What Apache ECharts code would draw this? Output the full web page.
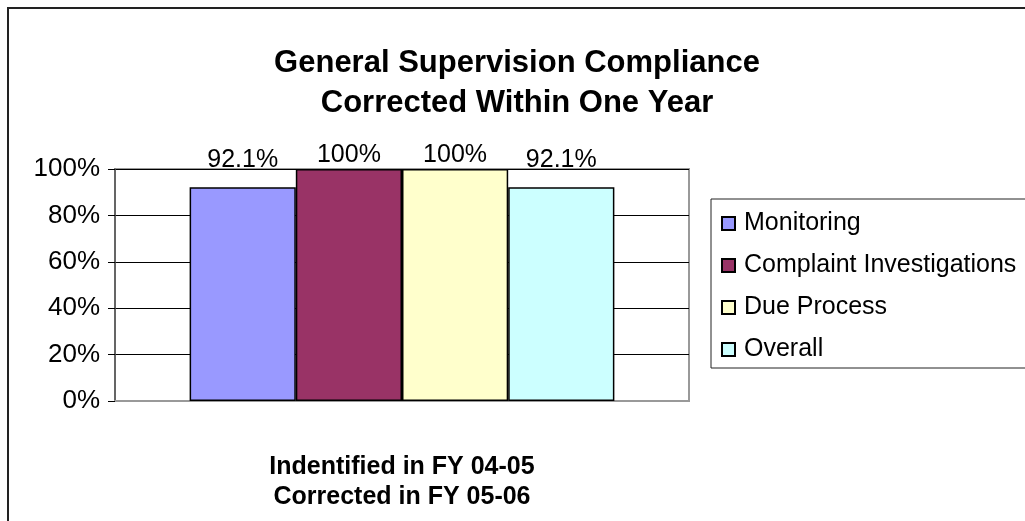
<!DOCTYPE html>
<html>
<head>
<meta charset="utf-8">
<script src="https://cdn.jsdelivr.net/npm/echarts@6/dist/echarts.min.js"></script>
<style>
  html, body { margin: 0; padding: 0; background: #fff; }
  #chart { width: 1025px; height: 521px; }
</style>
</head>
<body>
<div id="chart"></div>
<script>
// chart data
const categories = ['Indentified in FY 04-05\nCorrected in FY 05-06'];
const seriesNames = ['Monitoring', 'Complaint Investigations', 'Due Process', 'Overall'];
const seriesValues = [92.1, 100, 100, 92.1];
const seriesColors = ['#9999ff', '#993366', '#ffffcc', '#ccffff'];
const yTicks = [0, 20, 40, 60, 80, 100];

const font = '"Liberation Sans", Arial, sans-serif';

const myChart = echarts.init(document.getElementById('chart'));

// labels in the original sit on roughly one line above the plot
const labelDistance = v => 1 + (100 - v) * 1.7;

const series = seriesNames.map((name, i) => ({
  name,
  type: 'bar',
  data: [seriesValues[i]],
  barGap: '0%',
  barCategoryGap: '26%',
  itemStyle: { color: seriesColors[i], borderColor: '#000', borderWidth: 1.5 },
  label: {
    show: true,
    position: 'top',
    distance: labelDistance(seriesValues[i]),
    color: '#000',
    fontFamily: font,
    fontSize: 25,
    formatter: p => p.value + '%'
  }
}));

const option = {
  animation: false,
  textStyle: { fontFamily: font },
  title: {
    text: 'General Supervision Compliance\nCorrected Within One Year',
    left: 512,
    textAlign: 'center',
    top: 38,
    textStyle: { fontFamily: font, fontSize: 31, fontWeight: 'bold', color: '#000', lineHeight: 40 }
  },
  graphic: [{
    type: 'rect',
    shape: { x: 8, y: 8, width: 1100, height: 600 },
    style: { fill: 'none', stroke: '#222', lineWidth: 2 },
    silent: true
  }],
  legend: {
    orient: 'vertical',
    left: 711,
    top: 199,
    padding: [12, 60, 6, 10],
    itemGap: 17,
    itemWidth: 13,
    itemHeight: 13,
    borderColor: '#222',
    borderWidth: 1,
    icon: 'rect',
    textStyle: { fontFamily: font, fontSize: 25, color: '#000', padding: [0, 0, 0, 4] },
    data: seriesNames
  },
  grid: {
    left: 115,
    right: 336,
    top: 169,
    bottom: 120,
    show: true,
    borderColor: '#999',
    borderWidth: 2
  },
  xAxis: {
    type: 'category',
    data: categories,
    axisLine: { lineStyle: { color: '#999', width: 2 } },
    axisTick: { show: false },
    axisLabel: {
      color: '#000',
      fontFamily: font,
      fontSize: 25,
      fontWeight: 'bold',
      lineHeight: 30,
      margin: 51
    }
  },
  yAxis: {
    type: 'value',
    min: yTicks[0],
    max: yTicks[yTicks.length - 1],
    interval: 20,
    axisLine: { show: true, lineStyle: { color: '#555', width: 1.5 } },
    axisTick: { show: true, length: 7, lineStyle: { color: '#000' } },
    axisLabel: {
      color: '#000',
      fontFamily: font,
      fontSize: 26,
      margin: 15,
      formatter: '{value}%'
    },
    splitLine: { lineStyle: { color: '#000', width: 1 } }
  },
  series
};

myChart.setOption(option);
</script>
</body>
</html>
